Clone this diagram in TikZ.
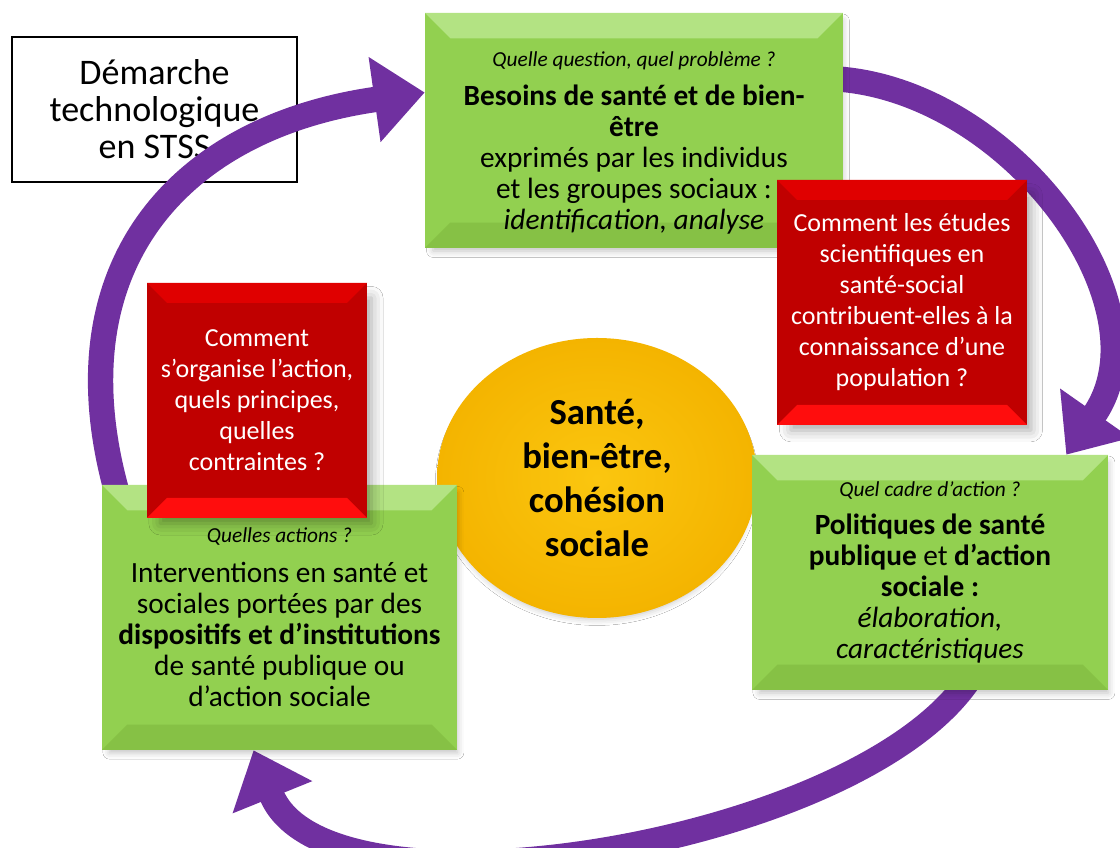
\documentclass[tikz,border=0pt]{standalone}
\usepackage{fontspec}
\setmainfont{Carlito}
\usetikzlibrary{shapes.geometric,arrows.meta,calc,shadows.blur}

\definecolor{vertfond}{HTML}{92D050}
\definecolor{vertclair}{HTML}{B3E383}
\definecolor{vertfonce}{HTML}{86C145}
\definecolor{rougefond}{HTML}{C00000}
\definecolor{rougehaut}{HTML}{E00000}
\definecolor{rougebas}{HTML}{FF0D0D}
\definecolor{violetfleche}{HTML}{7030A0}
\definecolor{jaunecentre}{HTML}{FBC60F}
\definecolor{jaunebord}{HTML}{F4B400}

\pgfdeclarelayer{background}
\pgfsetlayers{background,main}

\newcommand{\questiontxt}[1]{{\fontsize{16}{19}\selectfont\itshape #1}}

\tikzset{
  bevel/.style n args={3}{path picture={
      \fill[#1] (path picture bounding box.north west) -- (path picture bounding box.north east)
        -- ([shift={(-#3,-#3)}]path picture bounding box.north east)
        -- ([shift={(#3,-#3)}]path picture bounding box.north west) -- cycle;
      \fill[#2] (path picture bounding box.south west) -- (path picture bounding box.south east)
        -- ([shift={(-#3,#3)}]path picture bounding box.south east)
        -- ([shift={(#3,#3)}]path picture bounding box.south west) -- cycle;
    }},
  titre/.style={draw=black, line width=0.8pt, fill=white, align=center,
    minimum width=213.75pt, minimum height=108.75pt,
    font=\fontsize{27}{27.75}\selectfont},
  boiteverte/.style={fill=vertfond, bevel={vertclair}{vertfonce}{19pt}, align=center,
    font=\fontsize{22}{23.25}\selectfont,
    blur shadow={shadow xshift=3pt, shadow yshift=-4pt, shadow scale=0.98, shadow opacity=25, shadow blur radius=5pt}},
  boiterouge/.style={fill=rougefond, bevel={rougehaut}{rougebas}{15pt}, text=white, align=center,
    font=\fontsize{19.5}{23.25}\selectfont,
    blur shadow={shadow xshift=7pt, shadow yshift=-8pt, shadow scale=0.96, shadow opacity=35, shadow blur radius=9pt}},
  centre/.style={ellipse, inner color=jaunecentre, outer color=jaunebord,
    minimum width=240pt, minimum height=210pt, align=center,
    font=\bfseries\fontsize{27.5}{33}\selectfont,
    blur shadow={shadow xshift=0pt, shadow yshift=-4pt, shadow scale=0.97, shadow opacity=25, shadow blur radius=5pt}},
  fleche/.style={draw=violetfleche, line width=19pt, -{Triangle[width=62pt,length=38pt]}}
}

\begin{document}
\begin{tikzpicture}[x=0.75pt,y=0.75pt]
  \useasboundingbox (0,0) rectangle (1120,848);

  % centre
  \node[centre] (sante) at (597,370) {Santé,\\bien-être,\\cohésion\\sociale};

  % les trois etapes
  \node[boiteverte, minimum width=313.5pt, minimum height=176.25pt] (besoins) at (634,717.5)
    {\rule{0pt}{30pt}\questiontxt{Quelle question, quel problème ?}\\[6pt]
     \textbf{Besoins de santé et de bien-}\\ \textbf{être}\\
     exprimés par les individus\\ et les groupes sociaux :\\ \textit{identification, analyse}};
  \node[boiteverte, minimum width=267pt, minimum height=176.25pt] (politiques) at (930,275.5)
    {\questiontxt{Quel cadre d’action ?}\\[5pt]
     \textbf{Politiques de santé}\\ \textbf{publique} et \textbf{d’action}\\ \textbf{sociale :}\\
     \textit{élaboration,}\\ \textit{caractéristiques}};
  \node[boiteverte, minimum width=266.25pt, minimum height=198.75pt] (actions) at (279.5,230.5)
    {\questiontxt{Quelles actions ?}\\[7pt]
     Interventions en santé et\\ sociales portées par des\\ \textbf{dispositifs et d’institutions}\\
     de santé publique ou\\ d’action sociale};

  % questions
  \node[boiterouge, minimum width=187.5pt, minimum height=183.75pt] (etudes) at (902,545.5)
    {Comment les études\\ scientifiques en\\ santé-social\\ contribuent-elles à la\\ connaissance d’une\\ population ?};
  \node[boiterouge, minimum width=165pt, minimum height=176.25pt] (organisation) at (257,447.5)
    {Comment\\ s’organise l’action,\\ quels principes,\\ quelles\\ contraintes ?};

  \begin{pgfonlayer}{background}
    \fill[white] (0,0) rectangle (1120,848);
    \node[titre] (demarche) at (154.5,738.5) {Démarche\\technologique\\en STSS};
    \draw[fleche] ($(actions.north west)+(22,-30)$) to[out=108,in=188,looseness=1.25] ($(besoins.west)+(0,38)$);
    \draw[fleche] ($(besoins.east)+(-30,52)$) to[out=2,in=55,looseness=1.05] ($(politiques.north east)+(-42,0)$);
    \draw[fleche] ($(politiques.south)+(50,30)$) to[out=245,in=-68,looseness=0.7] ($(actions.south)+(-26,0)$);
  \end{pgfonlayer}
\end{tikzpicture}
\end{document}
